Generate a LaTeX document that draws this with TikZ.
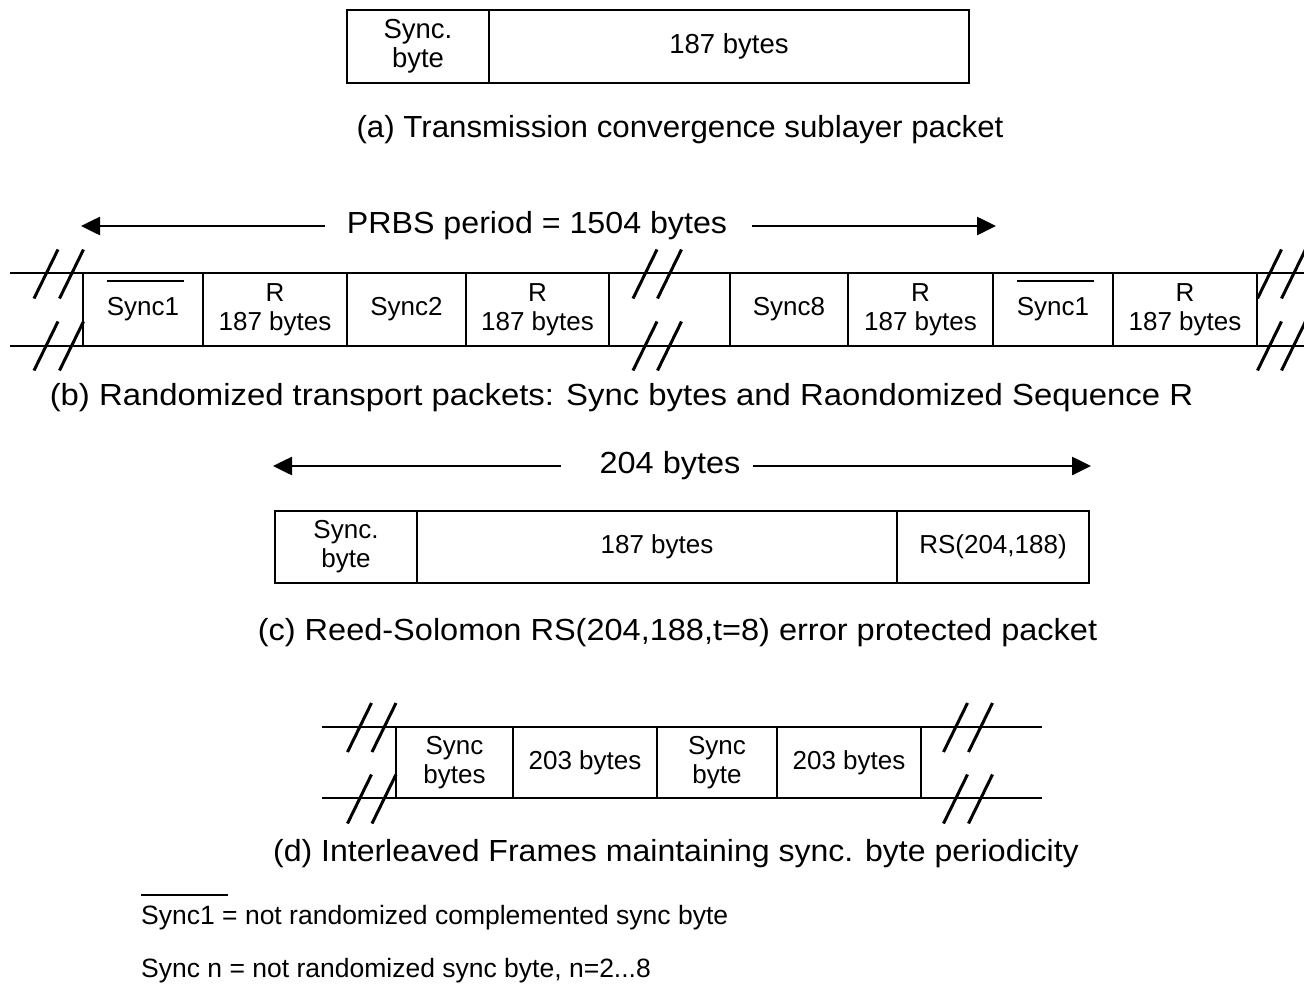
\documentclass[tikz,border=0pt]{standalone}
\usepackage{fontspec}
\setmainfont{Liberation Sans}
\usetikzlibrary{arrows.meta}

% text with a bar above it: #2 = height of the bar over the baseline, #3 = extra length on the right
\newsavebox\ovlbox
\newcommand\ovl[3]{\leavevmode\sbox\ovlbox{#1}\smash{\rlap{\rule[#2]{\dimexpr\wd\ovlbox+#3\relax}{2pt}}}\usebox\ovlbox}
% slightly widened caption lettering
\newcommand\wide[2]{\scalebox{#1}[1]{#2}}

\begin{document}
\begin{tikzpicture}[x=1pt,y=-1pt,
  cell/.style={draw,line width=2.2pt,inner sep=0pt,align=center,
    font=\fontsize{26}{29}\selectfont},
  bigcell/.style={cell,font=\fontsize{27.5}{29}\selectfont},
  caption/.style={inner sep=0pt,anchor=base,font=\fontsize{30.5}{34}\selectfont},
  legend/.style={inner sep=0pt,anchor=base west,font=\fontsize{26.5}{30}\selectfont},
  rail/.style={line width=2.4pt},
  slash/.style={line width=3pt},
  span/.style={line width=2.6pt,-{Triangle[length=19pt,width=18pt]}}]

\useasboundingbox (0,0) rectangle (1304,996);

% (a) transmission convergence sublayer packet
\node[bigcell,minimum width=142,minimum height=73] (a1) at (418,46.5) {Sync.\\byte};
\node[bigcell,minimum width=480,minimum height=73] (a2) at (729,46.5) {187 bytes};
\node[caption] (capa) at (680,137) {\wide{1.025}{(a) Transmission convergence sublayer packet}};

% (b) randomized transport packets
\node[caption] (prbs) at (537,233) {\wide{1.055}{PRBS period = 1504 bytes}};
\coordinate (prbsL) at (81,226);
\coordinate (prbsR) at (996,226);
\draw[span] ([xshift=-22pt]prbs.west |- prbsL) -- (prbsL);
\draw[span] ([xshift=25pt]prbs.east |- prbsR) -- (prbsR);

\coordinate (btl) at (10,273);  \coordinate (btr) at (1304,273);
\coordinate (bbl) at (10,346);  \coordinate (bbr) at (1304,346);
\draw[rail] (btl) -- (btr);
\draw[rail] (bbl) -- (bbr);

\node[cell,minimum width=120,minimum height=73] (b1) at (143,309.5) {\ovl{Sync1}{34pt}{5pt}};
\node[cell,minimum width=144,minimum height=73] (b2) at (275,309.5) {R\\187 bytes};
\node[cell,minimum width=119,minimum height=73] (b3) at (406.5,309.5) {Sync2};
\node[cell,minimum width=143,minimum height=73] (b4) at (537.5,309.5) {R\\187 bytes};
\node[cell,minimum width=121,minimum height=73] (b5) at (669.5,309.5) {};
\node[cell,minimum width=118,minimum height=73] (b6) at (789,309.5) {Sync8};
\node[cell,minimum width=145,minimum height=73] (b7) at (920.5,309.5) {R\\187 bytes};
\node[cell,minimum width=120,minimum height=73] (b8) at (1053,309.5) {\ovl{Sync1}{34pt}{5pt}};
\node[cell,minimum width=144,minimum height=73] (b9) at (1185,309.5) {R\\187 bytes};

\foreach \cx/\cy in {46/274,71.5/274,645/274,669.5/274,1269.5/274,1293.5/274,
                     46/346,71.5/346,645/346,669.5/346,1269.5/346,1293.5/346}
  \draw[slash] (\cx-12,\cy+24.5) -- (\cx+12,\cy-24.5);

\node[caption] (capb) at (621.5,405) {\wide{1.078}{(b) Randomized transport packets: Sync bytes and Raondomized Sequence R}};

% (c) Reed-Solomon protected packet
\node[caption] (rs) at (670,473) {\wide{1.065}{204 bytes}};
\coordinate (rsL) at (273,466);
\coordinate (rsR) at (1091,466);
\draw[span] ([xshift=-38pt]rs.west |- rsL) -- (rsL);
\draw[span] ([xshift=12pt]rs.east |- rsR) -- (rsR);

\node[cell,minimum width=142,minimum height=72] (c1) at (346,547) {Sync.\\byte};
\node[cell,minimum width=480,minimum height=72] (c2) at (657,547) {187 bytes};
\node[cell,minimum width=192,minimum height=72] (c3) at (993,547) {RS(204,188)};
\node[caption] (capc) at (677.5,640) {\wide{1.066}{(c) Reed-Solomon RS(204,188,t=8) error protected packet}};

% (d) interleaved frames
\coordinate (dtl) at (322,727);  \coordinate (dtr) at (1042,727);
\coordinate (dbl) at (322,798);  \coordinate (dbr) at (1042,798);
\draw[rail] (dtl) -- (dtr);
\draw[rail] (dbl) -- (dbr);

\node[cell,minimum width=117,minimum height=71] (d1) at (454.5,762.5) {Sync\\bytes};
\node[cell,minimum width=144,minimum height=71] (d2) at (585,762.5) {203 bytes};
\node[cell,minimum width=120,minimum height=71] (d3) at (717,762.5) {Sync\\byte};
\node[cell,minimum width=144,minimum height=71] (d4) at (849,762.5) {203 bytes};

\foreach \cx/\cy in {359.5/727.5,384/727.5,955.5/727.5,980.5/727.5,
                     359.5/799,384/799,955.5/799,980.5/799}
  \draw[slash] (\cx-12,\cy+24.5) -- (\cx+12,\cy-24.5);

\node[caption] (capd) at (676,861) {\wide{1.05}{(d) Interleaved Frames maintaining sync. byte periodicity}};

% legend
\node[legend] (leg1) at (141,924) {\ovl{Sync1}{28pt}{13pt} = not randomized complemented sync byte};
\node[legend] (leg2) at (141,977) {Sync n = not randomized sync byte, n=2...8};

\end{tikzpicture}
\end{document}
